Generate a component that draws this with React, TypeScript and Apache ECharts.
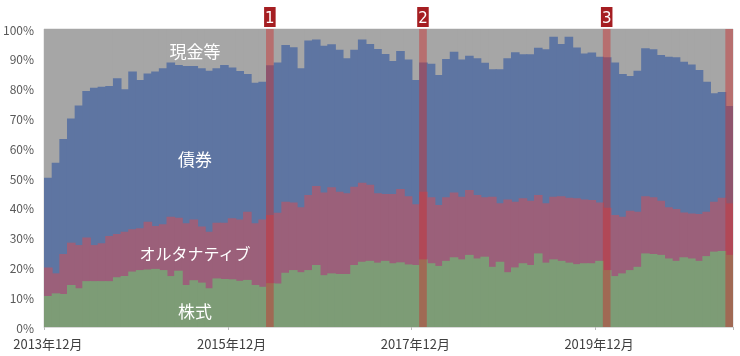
import React, { useEffect, useRef } from "react";
import * as echarts from "echarts";

// Monthly categories: 2013年12月 .. 2021年5月 (90 months)
const startYear = 2013;
const startMonth = 12;
const monthCount = 90;
const months: string[] = [];
for (let i = 0; i < monthCount; i++) {
  const t = startYear * 12 + (startMonth - 1) + i;
  months.push(`${Math.floor(t / 12)}年${(t % 12) + 1}月`);
}

const tickLabels = ["2013年12月", "2015年12月", "2017年12月", "2019年12月"];

// Upper edge (cumulative %) of each layer
const equityTop = [
  10.4, 11.3, 11.1, 14.1, 13.0, 15.4, 15.4, 15.4, 15.4, 16.7,
  17.1, 18.6, 19.1, 19.3, 19.5, 19.1, 17.1, 18.9, 14.1, 15.7,
  14.9, 13.0, 16.3, 16.1, 16.0, 15.5, 15.8, 14.1, 13.5, 14.7,
  14.6, 18.2, 19.1, 18.4, 19.1, 20.8, 17.4, 18.0, 17.8, 17.8,
  20.8, 21.9, 22.2, 21.6, 22.2, 21.4, 21.7, 21.0, 20.8, 22.7,
  21.4, 20.5, 22.2, 23.4, 22.7, 24.2, 23.0, 23.6, 20.2, 21.9,
  18.4, 20.0, 21.4, 20.8, 24.7, 21.6, 22.7, 22.2, 21.6, 21.1,
  21.4, 21.4, 22.2, 19.1, 17.1, 18.0, 19.1, 20.2, 24.7, 24.5,
  24.2, 23.0, 22.2, 23.4, 23.0, 22.2, 23.8, 25.3, 25.5, 24.2,
];

const alternativeTop = [
  20.0, 18.0, 24.5, 28.3, 27.5, 30.0, 27.5, 28.1, 30.5, 31.2,
  32.0, 32.8, 33.1, 35.3, 33.9, 34.5, 37.0, 36.7, 34.8, 36.1,
  33.7, 32.0, 35.0, 35.0, 36.5, 36.1, 38.7, 34.8, 36.1, 37.6,
  38.3, 42.0, 41.8, 40.2, 44.3, 47.3, 45.1, 46.9, 45.4, 44.9,
  47.1, 48.4, 47.7, 44.9, 44.6, 44.6, 46.3, 43.9, 41.2, 45.4,
  43.5, 40.9, 43.5, 45.1, 43.7, 46.0, 44.3, 43.5, 43.7, 41.5,
  42.8, 42.0, 43.2, 42.4, 44.3, 41.5, 43.7, 43.9, 43.4, 43.2,
  42.8, 42.6, 41.8, 40.0, 37.6, 37.0, 39.0, 38.7, 43.9, 43.5,
  42.4, 40.2, 39.6, 38.4, 38.1, 37.9, 38.7, 42.0, 43.4, 41.5,
];

const bondTop = [
  50.1, 55.1, 63.1, 70.0, 74.3, 79.2, 80.3, 80.6, 80.9, 83.5,
  79.8, 85.7, 82.9, 85.1, 85.7, 86.8, 88.8, 87.9, 87.6, 87.6,
  86.8, 86.0, 86.8, 87.9, 87.1, 85.9, 84.9, 82.0, 82.3, 87.8,
  88.8, 94.6, 93.9, 86.8, 96.1, 96.5, 94.4, 94.9, 93.0, 90.2,
  93.0, 96.5, 95.0, 93.3, 91.6, 89.3, 92.6, 89.8, 82.9, 88.8,
  88.3, 84.6, 89.9, 92.4, 89.8, 91.0, 90.2, 88.7, 86.5, 86.5,
  90.2, 92.2, 91.5, 91.5, 93.7, 93.2, 97.4, 95.0, 97.4, 93.8,
  91.8, 92.1, 90.7, 90.5, 88.8, 84.9, 84.2, 86.0, 93.5, 93.2,
  91.3, 90.7, 90.5, 89.0, 88.1, 86.2, 82.3, 78.4, 78.9, 74.2,
];

// cash fills the rest up to 100%
const cashTop = months.map(() => 100);

const eventMonths = ["2016年5月", "2018年1月", "2020年1月", "2021年5月"];
const eventLabels = ["1", "2", "3", ""];

const layerNames = ["現金等", "債券", "オルタナティブ", "株式"];
const layerColors = ["#A6A6A6", "#5E75A2", "#9B607A", "#7D9C76"];

const JP = "'Noto Sans CJK JP', 'Noto Sans', sans-serif";

export default function App() {
  const ref = useRef<HTMLDivElement>(null);

  useEffect(() => {
    if (!ref.current) return;
    const chart = echarts.init(ref.current, undefined, { renderer: "svg" });

    const barBase = {
      type: "bar" as const,
      barGap: "-100%",
      barCategoryGap: "0%",
      silent: true,
    };

    const layers = [cashTop, bondTop, alternativeTop, equityTop];

    const eventData = months.map((m) => {
      const k = eventMonths.indexOf(m);
      if (k < 0) return "-";
      return {
        value: 100,
        label: { show: eventLabels[k] !== "", formatter: eventLabels[k] },
      };
    });

    chart.setOption({
      animation: false,
      grid: {
        left: 44,
        right: 7,
        top: 29,
        bottom: 29,
        show: true,
        borderColor: "#d4d4d4",
        borderWidth: 1,
      },
      xAxis: {
        type: "category",
        data: months,
        boundaryGap: true,
        axisLine: { lineStyle: { color: "#d9d9d9" } },
        axisTick: {
          show: true,
          length: 3,
          interval: (_i: number, v: string) => tickLabels.includes(v),
          lineStyle: { color: "#bbbbbb" },
        },
        axisLabel: {
          interval: (_i: number, v: string) => tickLabels.includes(v),
          color: "#404040",
          fontSize: 13,
          fontFamily: JP,
          margin: 10,
        },
      },
      yAxis: {
        type: "value",
        min: 0,
        max: 100,
        interval: 10,
        axisLine: { show: false },
        axisTick: { show: false },
        splitLine: { show: false },
        axisLabel: {
          formatter: "{value}%",
          color: "#595959",
          fontSize: 12,
          fontFamily: JP,
          margin: 10,
        },
      },
      series: [
        ...layers.map((d, i) => ({
          ...barBase,
          barWidth: 8.6,
          name: layerNames[i],
          data: d,
          z: 1 + i,
          itemStyle: { color: layerColors[i], borderWidth: 0 },
        })),
        {
          ...barBase,
          barWidth: "100%",
          name: "event",
          data: eventData,
          z: 6,
          itemStyle: { color: "rgba(205,45,45,0.45)", borderWidth: 0 },
          label: {
            show: false,
            position: "top",
            distance: 2,
            color: "#ffffff",
            backgroundColor: "#A51E22",
            fontSize: 15,
            fontFamily: "'DejaVu Sans', sans-serif",
            padding: [2, 1, 1, 1],
            lineHeight: 17,
          },
        },
      ],
      graphic: [
        { type: "text", x: 195, y: 50, style: { text: "現金等", fill: "#ffffff", font: `17px ${JP}`, textAlign: "center", textVerticalAlign: "middle" }, z: 10 },
        { type: "text", x: 195, y: 158, style: { text: "債券", fill: "#ffffff", font: `17px ${JP}`, textAlign: "center", textVerticalAlign: "middle" }, z: 10 },
        { type: "text", x: 195, y: 253, style: { text: "オルタナティブ", fill: "#ffffff", font: `16px ${JP}`, textAlign: "center", textVerticalAlign: "middle" }, z: 10 },
        { type: "text", x: 195, y: 310, style: { text: "株式", fill: "#ffffff", font: `17px ${JP}`, textAlign: "center", textVerticalAlign: "middle" }, z: 10 },
      ],
    });

    return () => chart.dispose();
  }, []);

  return (
    <div
      ref={ref}
      style={{ position: "fixed", left: 0, top: 0, width: 740, height: 356 }}
    />
  );
}
